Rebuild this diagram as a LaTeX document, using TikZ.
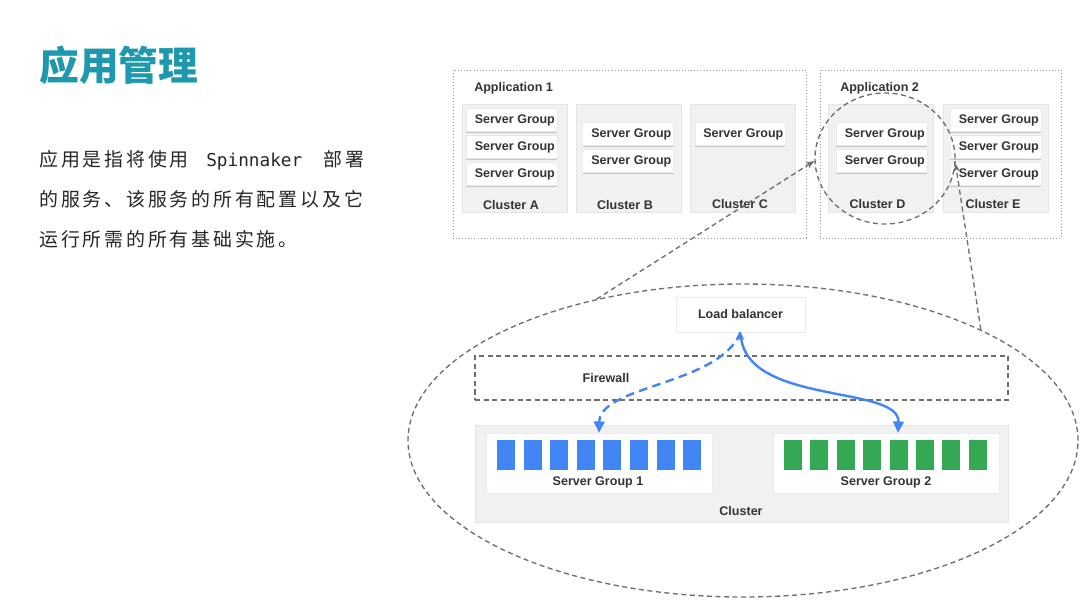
\documentclass[tikz,border=0pt]{standalone}
\usepackage{fontspec}
\setmainfont{Liberation Sans}
\newfontfamily\cjk{Noto Sans CJK SC}
\newfontfamily\cjkbody[LetterSpace=15]{Noto Sans CJK SC}
\newfontfamily\monof{DejaVu Sans Mono}
\usetikzlibrary{shapes.geometric,arrows.meta,shadows}
\definecolor{tealt}{HTML}{1E98AC}
\definecolor{txt}{HTML}{333333}
\definecolor{clgray}{HTML}{F1F1F1}
\definecolor{gblue}{HTML}{4285F4}
\definecolor{ggreen}{HTML}{34A853}
\definecolor{dgray}{HTML}{6E6E6E}
\definecolor{dotgray}{HTML}{9A9A9A}
\tikzset{
  px/.style 2 args={minimum width=#1*0.75pt, minimum height=#2*0.75pt},
  shad/.style={drop shadow={shadow xshift=0.2pt, shadow yshift=-0.9pt, fill=black, opacity=0.18}},
  appbox/.style={draw=dotgray, line width=0.7pt, dash pattern=on 0.7pt off 1.6pt, inner sep=0pt},
  clbox/.style={fill=clgray, draw=black!10, line width=0.3pt, shad, inner sep=0pt},
  sgbox/.style={fill=white, draw=black!8, line width=0.3pt, shad, inner sep=0pt,
                font=\bfseries\fontsize{9.4}{11}\selectfont, text=txt},
  lbl/.style={font=\bfseries\fontsize{9.4}{11}\selectfont, text=txt, inner sep=0pt},
  grdash/.style={draw=dgray, line width=1pt, dash pattern=on 3.8pt off 2.6pt},
  grarrow/.style={grdash, -{Stealth[length=6.5pt,width=5pt]}},
  bluesolid/.style={draw=gblue, line width=1.8pt},
  bluedash/.style={draw=gblue, line width=1.8pt, dash pattern=on 6.5pt off 4pt},
  bodytext/.style={inner sep=0pt, anchor=base west, text=black!85},
}
\begin{document}
\begin{tikzpicture}[x=0.75pt, y=-0.75pt]
\useasboundingbox (0,0) rectangle (1080,608);
\fill[white] (0,0) rectangle (1080,608);

% ---- left text ----
\node[inner sep=0pt, anchor=west, text=tealt, font=\cjk\bfseries\fontsize{29.8}{32}\selectfont] (title) at (39,65) {应用管理};
\node[bodytext, font=\cjkbody\fontsize{14.2}{16}\selectfont] (l1a) at (39,166) {应用是指将使用};
\node[bodytext, font=\monof\fontsize{13.3}{16}\selectfont] (l1b) at (206,166) {Spinnaker};
\node[bodytext, font=\cjkbody\fontsize{14.2}{16}\selectfont] (l1c) at (323,166) {部署};
\node[bodytext, font=\cjkbody\fontsize{14.2}{16}\selectfont] (l2) at (39,206) {的服务、该服务的所有配置以及它};
\node[bodytext, font=\cjkbody\fontsize{14.2}{16}\selectfont] (l3) at (39,246) {运行所需的所有基础实施。};

% ---- applications ----
\node[appbox, px={353}{168}] (app1) at (629.5,154) {};
\node[appbox, px={241}{168}] (app2) at (940.5,154) {};
\node[lbl, anchor=west] (app1l) at (474,88) {Application 1};
\node[lbl, anchor=west] (app2l) at (840,88) {Application 2};

% clusters
\node[clbox, px={105}{108}] (clA) at (514.5,158) {};
\node[clbox, px={105}{108}] (clB) at (628.5,158) {};
\node[clbox, px={105}{108}] (clC) at (743,158) {};
\node[clbox, px={105}{108}] (clD) at (881,158) {};
\node[clbox, px={105}{108}] (clE) at (996,158) {};

\node[sgbox, px={91}{23}] (sgA1) at (511.5,120) {\hspace{5pt}Server Group};
\node[sgbox, px={91}{23}] (sgA2) at (511.5,147) {\hspace{5pt}Server Group};
\node[sgbox, px={91}{23}] (sgA3) at (511.5,174) {\hspace{5pt}Server Group};
\node[sgbox, px={91}{23}] (sgB1) at (628,134) {\hspace{5pt}Server Group};
\node[sgbox, px={91}{23}] (sgB2) at (628,161) {\hspace{5pt}Server Group};
\node[sgbox, px={90}{23}] (sgC1) at (740,134) {\hspace{5pt}Server Group};
\node[sgbox, px={91}{23}] (sgD1) at (881.5,134) {\hspace{5pt}Server Group};
\node[sgbox, px={91}{23}] (sgD2) at (881.5,161) {\hspace{5pt}Server Group};
\node[sgbox, px={91}{23}] (sgE1) at (995.5,120) {\hspace{5pt}Server Group};
\node[sgbox, px={91}{23}] (sgE2) at (995.5,147) {\hspace{5pt}Server Group};
\node[sgbox, px={91}{23}] (sgE3) at (995.5,174) {\hspace{5pt}Server Group};

\node[lbl] (labA) at (511,205) {Cluster A};
\node[lbl] (labB) at (625,205) {Cluster B};
\node[lbl] (labC) at (740,204) {Cluster C};
\node[lbl] (labD) at (877.5,204) {Cluster D};
\node[lbl] (labE) at (993,204) {Cluster E};

% dashed circle around Cluster D
\node[ellipse, grdash, px={140}{131}, inner sep=0pt] (circD) at (885,158.5) {};

% ---- bottom detail ----
\node[ellipse, grdash, px={670}{313}, inner sep=0pt] (big) at (743,440.5) {};

\node[sgbox, px={129}{35}] (lb) at (740.5,314.5) {Load balancer};
\node[grdash, px={533}{44}, inner sep=0pt] (fw) at (741.5,378) {};
\node[lbl] (fwl) at (606,378) {Firewall};

\node[clbox, px={533}{97}] (cl) at (741.5,473.5) {};
\node[sgbox, px={226}{60}] (sg1) at (599,463) {};
\node[sgbox, px={226}{60}] (sg2) at (886,463) {};
\foreach \i in {0,...,7}{
  \fill[gblue] ({497+26.6*\i},440) rectangle ++(18,30);
  \fill[ggreen] ({784+26.4*\i},440) rectangle ++(18,30);
}
\node[lbl] (sg1l) at (598,482) {Server Group 1};
\node[lbl] (sg2l) at (886,482) {Server Group 2};
\node[lbl] (cll) at (741,511) {Cluster};

% ---- connectors ----
\draw[grarrow] (big.136.8) -- (circD.182);
\draw[grarrow] (big.25.3) -- (circD.-4);

\draw[bluedash, -{Triangle[length=8.5pt,width=8pt]}] (lb.south) .. controls (720,385) and (600,385) .. (sg1.north);
\draw[bluesolid, {Stealth[length=6pt,width=4.5pt]}-{Triangle[length=8.5pt,width=8pt]}] (lb.south) .. controls (748,405) and (900,385) .. ([xshift=9pt]sg2.north);
\end{tikzpicture}
\end{document}
